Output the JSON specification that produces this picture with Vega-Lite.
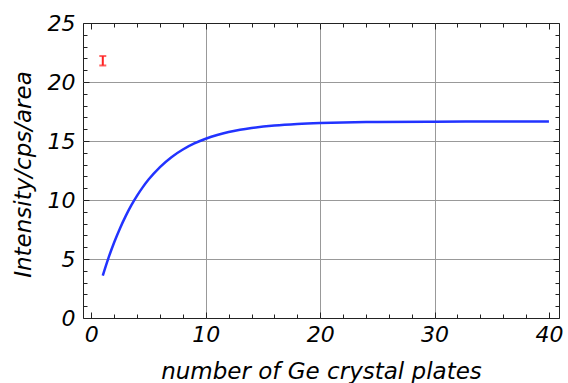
{
  "$schema": "https://vega.github.io/schema/vega-lite/v6.json",
  "width": 476,
  "height": 295,
  "autosize": "none",
  "padding": {"left": 83, "top": 23, "right": 9, "bottom": 65},
  "background": "white",
  "config": {
    "view": {"stroke": "#222", "strokeWidth": 1},
    "axis": {
      "domain": false,
      "labelFont": "DejaVu Sans",
      "labelFontStyle": "italic",
      "labelFontSize": 22,
      "labelColor": "black",
      "titleFont": "DejaVu Sans",
      "titleFontStyle": "italic",
      "titleFontWeight": "normal",
      "titleFontSize": 23,
      "titleColor": "black",
      "tickColor": "#222",
      "tickWidth": 1,
      "gridColor": "#999",
      "gridWidth": 1
    }
  },
  "datasets": {
    "curve": [
      {"plates": 1, "intensity": 3.6},
      {"plates": 1.5, "intensity": 5.1},
      {"plates": 2, "intensity": 6.42},
      {"plates": 2.5, "intensity": 7.59},
      {"plates": 3, "intensity": 8.63},
      {"plates": 3.5, "intensity": 9.56},
      {"plates": 4, "intensity": 10.37},
      {"plates": 4.5, "intensity": 11.09},
      {"plates": 5, "intensity": 11.73},
      {"plates": 6, "intensity": 12.79},
      {"plates": 7, "intensity": 13.63},
      {"plates": 8, "intensity": 14.28},
      {"plates": 9, "intensity": 14.79},
      {"plates": 10, "intensity": 15.19},
      {"plates": 11, "intensity": 15.51},
      {"plates": 12, "intensity": 15.76},
      {"plates": 13, "intensity": 15.95},
      {"plates": 14, "intensity": 16.1},
      {"plates": 16, "intensity": 16.31},
      {"plates": 18, "intensity": 16.44},
      {"plates": 20, "intensity": 16.52},
      {"plates": 22, "intensity": 16.57},
      {"plates": 25, "intensity": 16.61},
      {"plates": 30, "intensity": 16.64},
      {"plates": 35, "intensity": 16.65},
      {"plates": 40, "intensity": 16.65}
    ],
    "measured": [
      {"plates": 1, "low": 21.4, "high": 22.2}
    ]
  },
  "resolve": {"axis": {"x": "independent", "y": "independent"}},
  "layer": [
    {
      "data": {"name": "curve"},
      "mark": {"type": "line", "color": "#2233ff", "strokeWidth": 2.5, "interpolate": "monotone"},
      "encoding": {
        "x": {
          "field": "plates", "type": "quantitative",
          "scale": {"domain": [-0.73, 40.88], "nice": false, "zero": false},
          "axis": {
            "orient": "bottom",
            "title": "number of Ge crystal plates",
            "values": [0, 10, 20, 30, 40],
            "format": "d",
            "tickSize": -6,
            "labelPadding": 12,
            "grid": true,
            "gridOpacity": {"condition": {"test": "datum.value > 0 && datum.value < 40", "value": 1}, "value": 0},
            "titleX": 238, "titleY": 60, "titleBaseline": "alphabetic", "titleAnchor": "start", "titleAlign": "center"
          }
        },
        "y": {
          "field": "intensity", "type": "quantitative",
          "scale": {"domain": [0, 25], "nice": false, "zero": false},
          "axis": {
            "orient": "left",
            "title": "Intensity/cps/area",
            "values": [0, 5, 10, 15, 20, 25],
            "tickSize": -6,
            "labelPadding": 14,
            "grid": true,
            "gridOpacity": {"condition": {"test": "datum.value > 0 && datum.value < 25", "value": 1}, "value": 0},
            "titleX": -60, "titleY": 151, "titleAngle": -90, "titleBaseline": "middle", "titleAlign": "center", "titleAnchor": "start"
          }
        }
      }
    },
    {
      "data": {"name": "measured"},
      "mark": {"type": "rule", "color": "#ff2222", "strokeWidth": 2},
      "encoding": {
        "x": {
          "field": "plates", "type": "quantitative",
          "scale": {"domain": [-0.73, 40.88], "nice": false, "zero": false},
          "axis": {"orient": "bottom", "title": null, "values": [2, 4, 6, 8, 12, 14, 16, 18, 22, 24, 26, 28, 32, 34, 36, 38], "labels": false, "grid": false, "tickSize": -4}
        },
        "y": {
          "field": "low", "type": "quantitative",
          "scale": {"domain": [0, 25], "nice": false, "zero": false},
          "axis": {"orient": "left", "title": null, "values": [1, 2, 3, 4, 6, 7, 8, 9, 11, 12, 13, 14, 16, 17, 18, 19, 21, 22, 23, 24], "labels": false, "grid": false, "tickSize": -4}
        },
        "y2": {"field": "high"}
      }
    },
    {
      "data": {"name": "measured"},
      "mark": {"type": "tick", "orient": "horizontal", "color": "#ff2222", "size": 7, "thickness": 2},
      "encoding": {
        "x": {
          "field": "plates", "type": "quantitative",
          "scale": {"domain": [-0.73, 40.88], "nice": false, "zero": false},
          "axis": {"orient": "top", "title": null, "values": [0, 10, 20, 30, 40], "labels": false, "grid": false, "tickSize": -6}
        },
        "y": {
          "field": "low", "type": "quantitative",
          "scale": {"domain": [0, 25], "nice": false, "zero": false},
          "axis": {"orient": "right", "title": null, "values": [0, 5, 10, 15, 20, 25], "labels": false, "grid": false, "tickSize": -6}
        }
      }
    },
    {
      "data": {"name": "measured"},
      "mark": {"type": "tick", "orient": "horizontal", "color": "#ff2222", "size": 7, "thickness": 2},
      "encoding": {
        "x": {
          "field": "plates", "type": "quantitative",
          "scale": {"domain": [-0.73, 40.88], "nice": false, "zero": false},
          "axis": {"orient": "top", "title": null, "values": [2, 4, 6, 8, 12, 14, 16, 18, 22, 24, 26, 28, 32, 34, 36, 38], "labels": false, "grid": false, "tickSize": -4}
        },
        "y": {
          "field": "high", "type": "quantitative",
          "scale": {"domain": [0, 25], "nice": false, "zero": false},
          "axis": {"orient": "right", "title": null, "values": [1, 2, 3, 4, 6, 7, 8, 9, 11, 12, 13, 14, 16, 17, 18, 19, 21, 22, 23, 24], "labels": false, "grid": false, "tickSize": -4}
        }
      }
    }
  ]
}
